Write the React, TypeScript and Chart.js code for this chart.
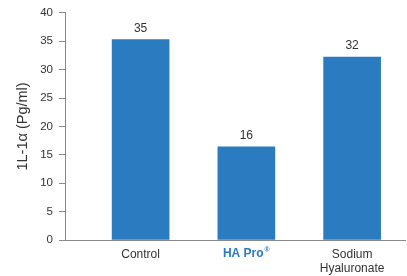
import React, { useEffect, useRef } from "react";
import { Chart, registerables } from "chart.js";

Chart.register(...registerables);

const categories: string[][] = [["Control"], ["HA Pro®"], ["Sodium", "Hyaluronate"]];
const positions = [1, 2, 3];
const values = [35.3, 16.4, 32.2];
const valueLabels = ["35", "16", "32"];
const yTicks = [0, 5, 10, 15, 20, 25, 30, 35, 40];

const BAR = "#2A7BC0";
const AXIS = "#8a8a8a";
const TEXT = "#333333";
const FONT = "'Liberation Sans', Arial, sans-serif";

export default function App() {
  const ref = useRef<HTMLCanvasElement | null>(null);
  useEffect(() => {
    document.body.style.margin = "0";
    if (!ref.current) return;
    const labelPlugin = {
      id: "valueLabels",
      afterDatasetsDraw(chart: any) {
        const ctx = chart.ctx;
        const meta = chart.getDatasetMeta(0);
        ctx.save();
        ctx.font = `12px ${FONT}`;
        ctx.fillStyle = TEXT;
        ctx.textAlign = "center";
        ctx.textBaseline = "middle";
        meta.data.forEach((el: any, i: number) => {
          ctx.fillText(valueLabels[i], el.x, el.y - 11);
        });
        // HA Pro label with superscript mark
        const xs = chart.scales.x;
        const cx = xs.getPixelForValue(positions[1]);
        const cy = xs.top + 14;
        const main = categories[1][0].replace("®", "");
        ctx.font = `bold 12px ${FONT}`;
        const w1 = ctx.measureText(main).width;
        ctx.font = `bold 7px ${FONT}`;
        const w2 = ctx.measureText("®").width;
        const start = cx - (w1 + w2 + 1) / 2;
        ctx.fillStyle = BAR;
        ctx.textAlign = "left";
        ctx.font = `bold 12px ${FONT}`;
        ctx.fillText(main, start, cy);
        ctx.font = `bold 7px ${FONT}`;
        ctx.fillText("®", start + w1 + 1, cy - 4);
        ctx.restore();
      },
    };
    const chart = new Chart(ref.current, {
      type: "bar",
      data: {
        datasets: [
          {
            data: positions.map((p, i) => ({ x: p, y: values[i] })),
            backgroundColor: BAR,
            barThickness: 57,
          },
        ],
      },
      options: {
        animation: false,
        responsive: false,
        maintainAspectRatio: false,
        layout: { padding: { top: 10, right: 2, left: 0, bottom: 0 } },
        plugins: { legend: { display: false }, tooltip: { enabled: false } },
        scales: {
          x: {
            type: "linear",
            offset: false,
            min: 0.285,
            max: 3.5,
            afterBuildTicks(scale: any) {
              scale.ticks = positions.map((v) => ({ value: v }));
            },
            afterFit(scale: any) {
              scale.height = 36;
            },
            grid: { display: false, drawTicks: false },
            border: { display: true, color: AXIS, width: 1 },
            ticks: {
              padding: 7,
              autoSkip: false,
              maxRotation: 0,
              callback: (v: any) => {
                const i = positions.indexOf(Number(v));
                if (i === 1) return "";
                return i >= 0 ? categories[i] : "";
              },
              color: TEXT,
              font: { family: FONT, size: 12 },
            },
          },
          y: {
            min: 0,
            max: 40,
            afterBuildTicks(scale: any) {
              scale.ticks = yTicks.map((v) => ({ value: v }));
            },
            afterFit(scale: any) {
              scale.width = 65;
            },
            grid: {
              drawOnChartArea: false,
              drawTicks: true,
              tickLength: 6,
              color: AXIS,
            },
            border: { display: true, color: AXIS, width: 1 },
            ticks: {
              padding: 6,
              color: TEXT,
              font: { family: FONT, size: 11.5 },
            },
            title: {
              display: true,
              text: "1L-1α (Pg/ml)",
              color: TEXT,
              font: { family: FONT, size: 14.5 },
              padding: { top: 14, bottom: 0 },
            },
          },
        },
      },
      plugins: [labelPlugin],
    } as any);
    return () => chart.destroy();
  }, []);
  return <canvas ref={ref} width={407} height={276} style={{ display: "block" }} />;
}
